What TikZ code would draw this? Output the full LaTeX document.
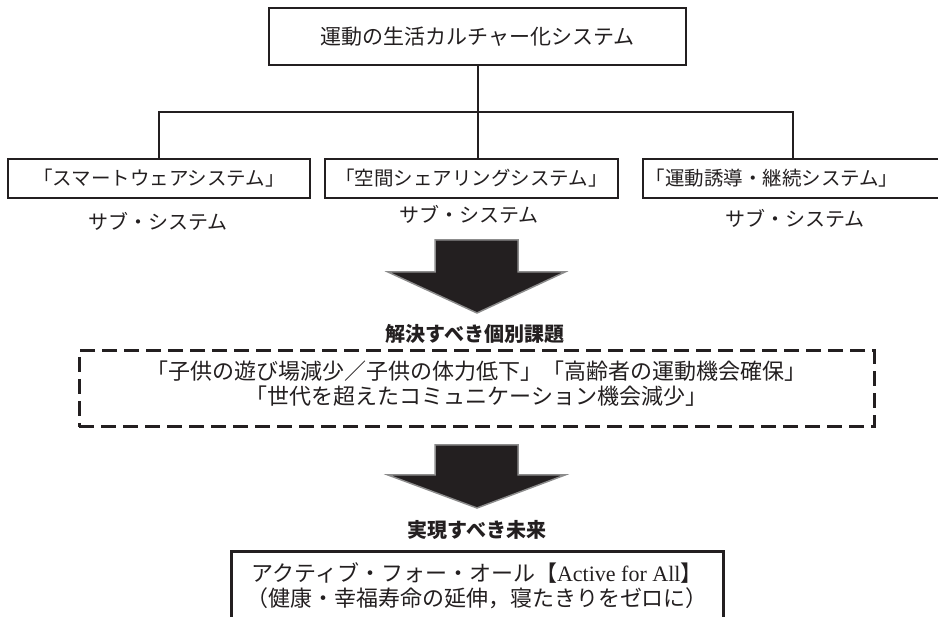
\documentclass[tikz,border=0pt]{standalone}
\usepackage{fontspec}
\setmainfont{Liberation Serif}
\newfontfamily\jp{Noto Sans CJK JP}
\definecolor{ink}{HTML}{231F20}
\definecolor{arrowedge}{HTML}{8C8C8C}
\begin{document}
\begin{tikzpicture}[x=1pt,y=-1pt,
  every node/.style={text=ink},
  sysbox/.style={draw=ink, line width=1.3pt, minimum height=39pt, inner sep=0pt, font=\jp\fontsize{19.5}{24}\selectfont},
  sublabel/.style={font=\jp\fontsize{20}{24}\selectfont, inner sep=0pt},
  conn/.style={draw=ink, line width=2pt},
  blockarrow/.style={fill=ink, draw=arrowedge, line width=1.5pt, line join=miter},
  heading/.style={font=\jp\bfseries\fontsize{20}{24}\selectfont, inner sep=0pt},
  issuebox/.style={draw=ink, line width=3pt, dash pattern=on 15pt off 7pt, minimum width=795pt, minimum height=76pt, inner sep=0pt},
  bodytext/.style={font=\jp\fontsize{22}{25}\selectfont, align=center, inner sep=0pt},
  futurebox/.style={draw=ink, line width=3pt, minimum width=492pt, minimum height=100pt, inner sep=0pt}
]
\useasboundingbox (0,0) rectangle (938,617);
\clip (0,0) rectangle (938,617);

% top system
\node[sysbox, minimum width=417pt, minimum height=57pt, font=\jp\fontsize{21}{24}\selectfont] (top) at (477.5,36.5) {運動の生活カルチャー化システム};

% sub-systems
\node[sysbox, minimum width=302pt] (left) at (159,178.5) {「スマートウェアシステム」};
\node[sysbox, minimum width=293pt] (mid) at (471.5,178.5) {「空間シェアリングシステム」};
\node[sysbox, minimum width=300pt] (right) at (793,178.5) {「運動誘導・継続システム」\hspace*{42pt}};

\coordinate (hb) at (477.5,112);
\draw[conn] (top.south) -- (top.south |- mid.north);
\draw[conn] (left.north) -- (left.north |- hb) -- (right.north |- hb) -- (right.north);

\node[sublabel] (lab1) at (158,221) {サブ・システム};
\node[sublabel] (lab2) at (469,214) {サブ・システム};
\node[sublabel] (lab3) at (795,218) {サブ・システム};

% block arrow 1
\draw[blockarrow] (435,240) -- (518,240) -- (518,272) -- (565,272) -- (477,313) -- (388,272) -- (435,272) -- cycle;

\node[heading] (h1) at (475,334) {解決すべき個別課題};
\node[issuebox] (issues) at (476.5,389) {};
\node[bodytext] (issuetext) at (476.5,384) {「子供の遊び場減少／子供の体力低下」「高齢者の運動機会確保」\\「世代を超えたコミュニケーション機会減少」};

% block arrow 2
\draw[blockarrow] (435,445) -- (518,445) -- (518,475) -- (565,475) -- (477,508) -- (388,475) -- (435,475) -- cycle;

\node[heading] (h2) at (477,530) {実現すべき未来};
\node[futurebox] (future) at (477,602) {};
\node[bodytext] (futuretext) at (477,586) {アクティブ・フォー・オール【{\rmfamily Active for All}】\\（健康・幸福寿命の延伸，寝たきりをゼロに）};
\end{tikzpicture}
\end{document}
